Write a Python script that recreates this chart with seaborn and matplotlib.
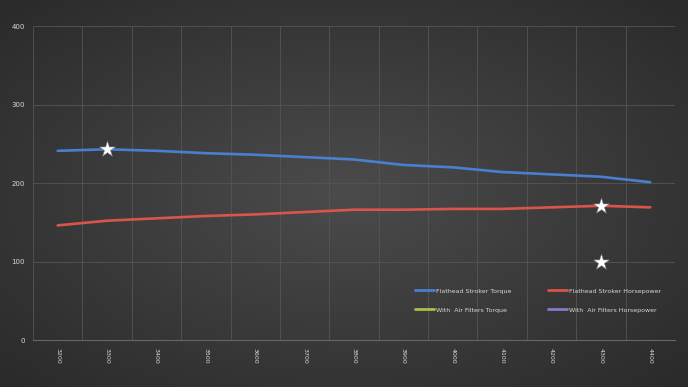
import numpy as np
import pandas as pd
import matplotlib
matplotlib.use("Agg")
import matplotlib.pyplot as plt
import seaborn as sns

# --- dados ---
rpm = ["3200", "3300", "3400", "3500", "3600", "3700", "3800",
       "3900", "4000", "4100", "4200", "4300", "4400"]
torque = [241, 243, 241, 238, 236, 233, 230, 223, 220, 214, 211, 208, 201]
horsepower = [146, 152, 155, 158, 160, 163, 166, 166, 167, 167, 169, 171, 169]

star_rpm = ["3300", "4300", "4300"]
star_val = [243, 171, 100]

series_names = ["Flathead Stroker Torque", "Flathead Stroker Horsepower",
                "With  Air Filters Torque", "With  Air Filters Horsepower"]
series_colors = ["#4a7fd0", "#d9554a", "#a8c04a", "#8a78c8"]

df = pd.DataFrame({
    "RPM": rpm * 2,
    "valor": torque + horsepower,
    "serie": [series_names[0]] * len(rpm) + [series_names[1]] * len(rpm),
})

sns.set_theme(style="dark")
plt.rcParams["font.family"] = ["DejaVu Sans"]

fig = plt.figure(figsize=(6.88, 3.87), dpi=100)

# fundo com gradiente radial
bg = fig.add_axes([0, 0, 1, 1], zorder=-10)
yy, xx = np.mgrid[-1:1:200j, -1:1:350j]
r = np.sqrt((xx * 0.9) ** 2 + (yy * 0.9) ** 2)
bg.imshow(-r, cmap=matplotlib.colors.LinearSegmentedColormap.from_list(
    "g", ["#2a2a2a", "#4b4b4b"]), aspect="auto", extent=[0, 1, 0, 1])
bg.axis("off")

ax = fig.add_axes([0.048, 0.1214, 0.933, 0.8114])
ax.set_facecolor("none")

sns.lineplot(data=df, x="RPM", y="valor", hue="serie",
             palette=series_colors[:2], linewidth=1.9, ax=ax, legend=False,
             zorder=3)
sns.scatterplot(x=star_rpm, y=star_val, marker="*", s=140, color="white",
                edgecolor="#888888", linewidth=0.4, ax=ax, zorder=5)

ax.set_xlim(-0.5, len(rpm) - 0.5)
ax.set_ylim(0, 400)
ax.set_yticks([0, 100, 200, 300, 400])
ax.set_xticks(np.arange(-0.5, len(rpm), 1), minor=True)
ax.set_xticks(range(len(rpm)))
ax.set_xticklabels(rpm, rotation=-90, fontsize=4.5, color="#d8d8d8")
ax.tick_params(axis="y", labelsize=5, colors="#d8d8d8", length=0, pad=6)
ax.tick_params(axis="x", which="both", length=0, pad=6)
ax.set_xlabel("")
ax.set_ylabel("")

ax.grid(False)
ax.grid(True, which="minor", axis="x", color="#555555", linewidth=0.6)
ax.grid(True, which="major", axis="y", color="#555555", linewidth=0.6)
for s in ["top", "right", "left"]:
    ax.spines[s].set_visible(False)
ax.spines["bottom"].set_color("#666666")
ax.spines["bottom"].set_linewidth(0.8)

handles = []
for name, c in zip(series_names, series_colors):
    h, = ax.plot([], [], color=c, linewidth=2, label=name)
    handles.append(h)
order = [handles[0], handles[2], handles[1], handles[3]]
leg = fig.legend(handles=order, loc="upper left", bbox_to_anchor=(0.595, 0.27),
                 ncol=2, frameon=False, fontsize=4.5, handlelength=3,
                 columnspacing=6, labelspacing=2.2, handletextpad=0.3)
for t in leg.get_texts():
    t.set_color("#d8d8d8")

fig.savefig("out.png", dpi=100)
